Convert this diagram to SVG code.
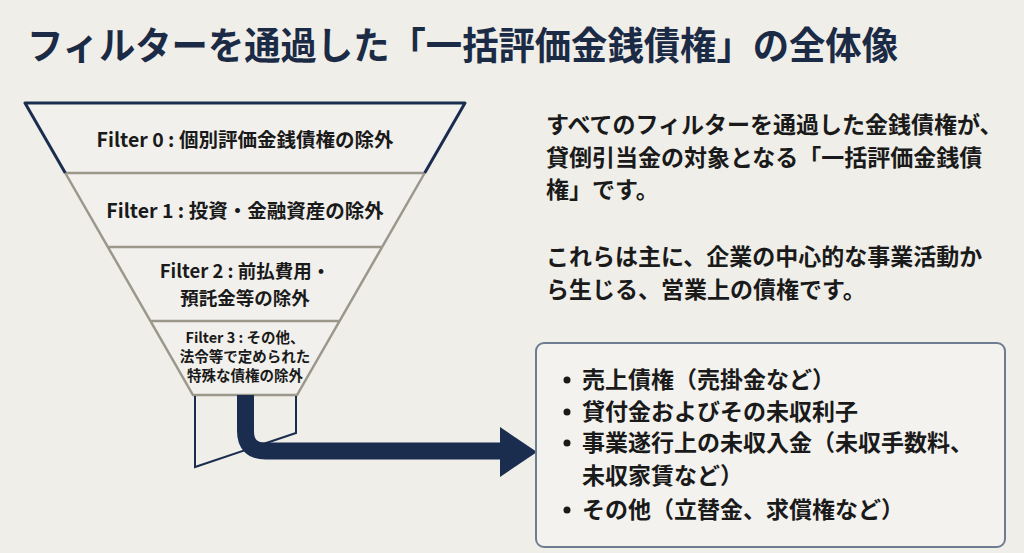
<svg xmlns="http://www.w3.org/2000/svg" width="1024" height="553" viewBox="0 0 1024 553">
<style>
.t{font-family:"Noto Sans CJK JP","Noto Sans",sans-serif;font-weight:700;fill:#1a1a1a}
.f{font-size:19.5px;text-anchor:middle}
.f2{font-size:18.5px;text-anchor:middle}
.f3{font-size:14.5px;text-anchor:middle}
.b{font-size:23px}
.navy{stroke:#1b2d4f;fill:none;stroke-width:3;stroke-linejoin:round}
.gray{stroke:#9c978b;fill:none;stroke-width:2.5}
</style>
<rect width="1024" height="553" fill="#efeee9"/>
<g id="title">
<text class="t" x="27" y="59" font-size="38" style="fill:#1c2b45" textLength="871" lengthAdjust="spacingAndGlyphs">フィルターを通過した「一括評価金銭債権」の全体像</text>
</g>
<g id="funnel">
<polygon points="25,103 465,103 297,395 193,395" fill="#f1f0ec"/>
<path class="gray" d="M65.3 173 L193 395 H297 L424.7 173 M65.3 173 H424.7 M107.8 247 H382.2 M150.4 321 H339.6"/>
<path class="navy" d="M65.3 173 L25 103 H465 L424.7 173"/>
</g>
<g id="filter0"><text class="t f" x="245" y="147">Filter 0 : 個別評価金銭債権の除外</text></g>
<g id="filter1"><text class="t f" x="245" y="218">Filter 1 : 投資・金融資産の除外</text></g>
<g id="filter2"><text class="t f2" x="245" y="278">Filter 2 : 前払費用・</text><text class="t f2" x="245" y="305">預託金等の除外</text></g>
<g id="filter3"><text class="t f3" x="245" y="343">Filter 3 : その他、</text><text class="t f3" x="245" y="362">法令等で定められた</text><text class="t f3" x="245" y="381">特殊な債権の除外</text></g>
<g id="spout"><path d="M195 396 V467 L296 433 V396" fill="none" stroke="#1b2d4f" stroke-width="2"/></g>
<g id="connectors">
<path d="M245.5 395 V431 Q245.5 451 265.5 451 H505" fill="none" stroke="#1b2d4f" stroke-width="17"/>
<polygon points="500,427 537,452 500,477" fill="#1b2d4f"/>
</g>
<g id="description">
<text class="t b" x="546" y="133">すべてのフィルターを通過した金銭債権が、</text>
<text class="t b" x="546" y="166">貸倒引当金の対象となる「一括評価金銭債</text>
<text class="t b" x="546" y="198">権」です。</text>
<text class="t b" x="546" y="265">これらは主に、企業の中心的な事業活動か</text>
<text class="t b" x="546" y="298">ら生じる、営業上の債権です。</text>
</g>
<g id="result-box">
<rect x="536" y="343" width="469" height="204" rx="8" fill="#f3f2ee" stroke="#6e7c8f" stroke-width="2"/>
<g fill="#1a1a1a">
<circle cx="567" cy="380" r="3.5"/>
<circle cx="567" cy="412" r="3.5"/>
<circle cx="567" cy="443" r="3.5"/>
<circle cx="567" cy="510" r="3.5"/>
</g>
<text class="t b" x="582" y="388">売上債権（売掛金など）</text>
<text class="t b" x="582" y="420">貸付金およびその未収利子</text>
<text class="t b" x="582" y="451">事業遂行上の未収入金（未収手数料、</text>
<text class="t b" x="582" y="484">未収家賃など）</text>
<text class="t b" x="582" y="518">その他（立替金、求償権など）</text>
</g>
</svg>
